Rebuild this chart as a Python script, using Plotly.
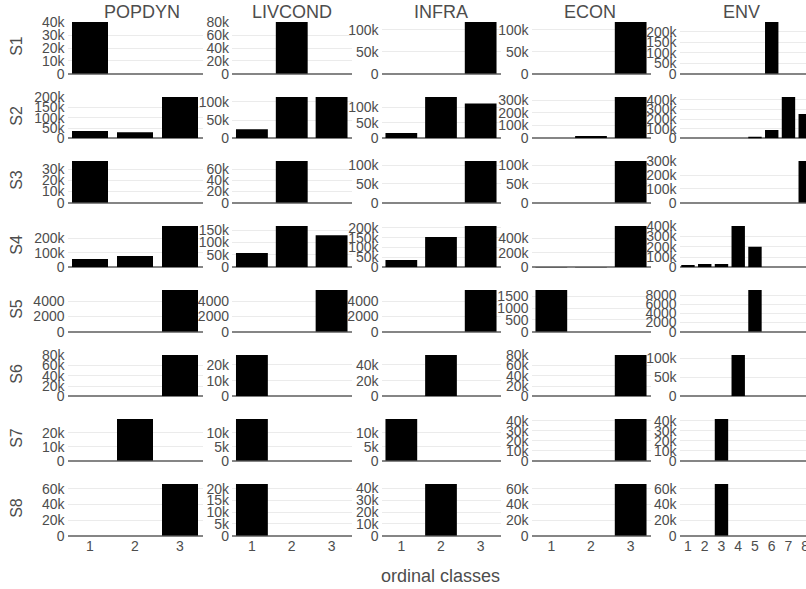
import plotly.graph_objects as go
from plotly.subplots import make_subplots

# ---------------- data ----------------
row_labels = ["S1", "S2", "S3", "S4", "S5", "S6", "S7", "S8"]
col_labels = ["POPDYN", "LIVCOND", "INFRA", "ECON", "ENV"]
classes_3 = [1, 2, 3]
classes_8 = [1, 2, 3, 4, 5, 6, 7, 8]

popdyn = [
    [40400, 0, 0],
    [35000, 30000, 201000],
    [37500, 0, 0],
    [57000, 78000, 285000],
    [0, 0, 5450],
    [0, 0, 80300],
    [0, 29800, 0],
    [0, 0, 66000],
]
livcond = [
    [0, 80500, 0],
    [25000, 113000, 113000],
    [0, 75000, 0],
    [58000, 167000, 130000],
    [0, 0, 5450],
    [26300, 0, 0],
    [14900, 0, 0],
    [22000, 0, 0],
]
infra = [
    [0, 0, 117500],
    [17000, 134000, 113000],
    [0, 0, 111000],
    [37000, 153000, 209000],
    [0, 0, 5450],
    [0, 52600, 0],
    [14900, 0, 0],
    [0, 43800, 0],
]
econ = [
    [0, 0, 117500],
    [0, 18000, 325000],
    [0, 0, 111000],
    [4000, 4000, 570000],
    [1780, 0, 0],
    [0, 0, 80300],
    [0, 0, 41700],
    [0, 0, 66000],
]
env = [
    [0, 0, 0, 0, 0, 247000, 0, 0],
    [0, 0, 0, 0, 17000, 86000, 430000, 253000],
    [0, 0, 0, 0, 0, 0, 0, 302000],
    [22000, 32000, 32000, 402000, 200000, 0, 0, 0],
    [0, 0, 0, 0, 9090, 0, 0, 0],
    [0, 0, 0, 108000, 0, 0, 0, 0],
    [0, 0, 41700, 0, 0, 0, 0, 0],
    [0, 0, 66000, 0, 0, 0, 0, 0],
]

# y tick step per panel (rows S1..S8, columns POPDYN..ENV)
y_dtick = [
    [10000, 20000, 50000, 50000, 50000],
    [50000, 50000, 50000, 100000, 100000],
    [10000, 20000, 50000, 50000, 100000],
    [100000, 50000, 50000, 200000, 100000],
    [2000, 2000, 2000, 500, 2000],
    [20000, 10000, 20000, 20000, 50000],
    [10000, 5000, 5000, 10000, 10000],
    [20000, 5000, 10000, 20000, 20000],
]

series = [popdyn, livcond, infra, econ, env]
col_classes = [classes_3, classes_3, classes_3, classes_3, classes_8]

# ---------------- layout geometry (pixels) ----------------
W, H = 806, 589
col_px = [(67.5, 202.5), (232, 351.5), (381.5, 500.5), (531.5, 650.5), (679.6, 806)]
row_px = [(22, 73.7), (97, 138.3), (161, 202.7), (226, 267.3),
          (290, 331.7), (355, 396.3), (419, 460.7), (484, 535.7)]
env_step = 16.75

TXT = "#4d4d4d"
FONT = "Liberation Sans, Arial, sans-serif"

fig = make_subplots(rows=8, cols=5)

for r in range(8):
    for c in range(5):
        fig.add_trace(
            go.Bar(
                x=col_classes[c],
                y=series[c][r],
                marker=dict(color="black", line=dict(width=0)),
                width=0.8,
                showlegend=False,
                hoverinfo="x+y",
            ),
            row=r + 1, col=c + 1,
        )

idx = 0
for r in range(8):
    for c in range(5):
        idx += 1
        sfx = "" if idx == 1 else str(idx)
        x0, x1 = col_px[c]
        y0, y1 = row_px[r]
        n = len(col_classes[c])
        if c == 4:
            xr = [0.5, 0.5 + (x1 - x0) / env_step]
        else:
            xr = [0.5, n + 0.5]
        ymax = max(series[c][r])
        fig.layout["xaxis" + sfx].update(
            domain=[x0 / W, x1 / W],
            range=xr,
            tickmode="array",
            tickvals=col_classes[c],
            ticktext=[str(v) for v in col_classes[c]],
            showticklabels=(r == 7),
            showgrid=False,
            zeroline=False,
            showline=False,
            ticks="",
            ticklabeloverflow="allow",
            tickfont=dict(size=14, color=TXT, family=FONT),
            automargin=False,
            fixedrange=True,
        )
        fig.layout["yaxis" + sfx].update(
            domain=[1 - y1 / H, 1 - y0 / H],
            range=[0, ymax],
            tickmode="linear",
            tick0=0,
            dtick=y_dtick[r][c],
            showgrid=True,
            gridcolor="#ebebeb",
            gridwidth=1,
            zeroline=True,
            zerolinecolor="#858585",
            zerolinewidth=2,
            showline=False,
            ticks="",
            ticklabelstandoff=2,
            ticklabeloverflow="allow",
            tickfont=dict(size=14, color=TXT, family=FONT),
            automargin=False,
            fixedrange=True,
        )

annotations = []
title_x = [142, 292, 441, 590, 741]
for name, xc in zip(col_labels, title_x):
    annotations.append(dict(
        text=name, x=xc / W, y=1 - 12 / H, xref="paper", yref="paper",
        xanchor="center", yanchor="middle", showarrow=False,
        font=dict(size=18, color=TXT, family=FONT),
    ))
for name, (y0, y1) in zip(row_labels, row_px):
    annotations.append(dict(
        text=name, x=17 / W, y=1 - ((y0 + y1) / 2 - 2) / H, xref="paper", yref="paper",
        xanchor="center", yanchor="middle", showarrow=False, textangle=-90,
        font=dict(size=16, color=TXT, family=FONT),
    ))
annotations.append(dict(
    text="ordinal classes", x=440 / W, y=1 - 576 / H, xref="paper", yref="paper",
    xanchor="center", yanchor="middle", showarrow=False,
    font=dict(size=18, color=TXT, family=FONT),
))

fig.update_layout(
    width=W, height=H,
    margin=dict(l=0, r=0, t=0, b=0),
    paper_bgcolor="white",
    plot_bgcolor="white",
    bargap=0.2,
    font=dict(family=FONT, color=TXT),
    annotations=annotations,
    showlegend=False,
)

fig.write_html(
    "out.html",
    config={"displayModeBar": False},
    post_script="document.body.style.margin='0px';document.body.style.overflow='hidden';",
)
